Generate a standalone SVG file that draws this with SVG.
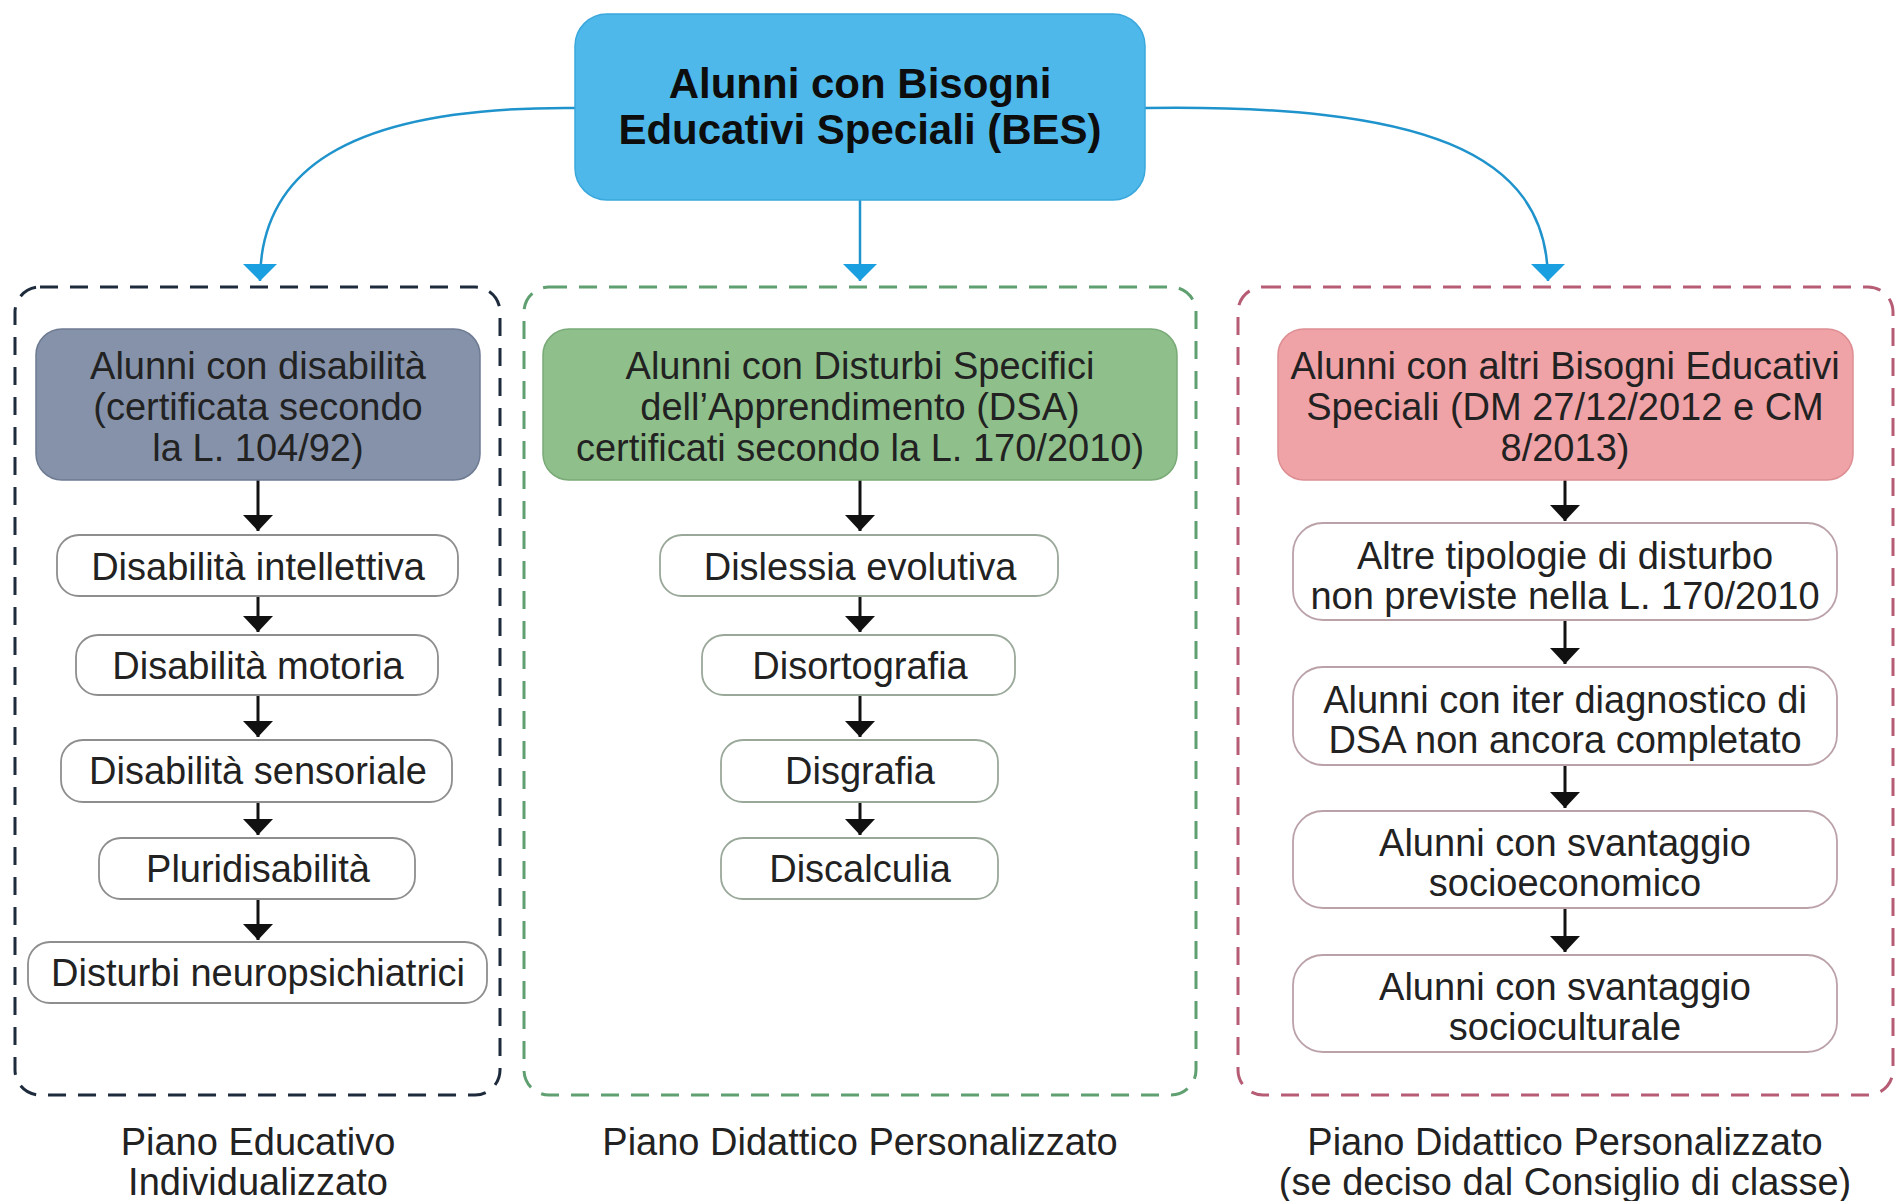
<svg xmlns="http://www.w3.org/2000/svg" width="1899" height="1201" viewBox="0 0 1899 1201">
<style>
text{font-family:"Liberation Sans",Arial,Helvetica,sans-serif;fill:#222;text-anchor:middle}
.t{font-size:38px}
.title{font-size:42px;font-weight:bold;fill:#0d0d0d}
.cont{fill:none;stroke-width:3;stroke-dasharray:18 12}
.child{fill:#fff;stroke-width:1.8}
.k{stroke:#111;stroke-width:3;fill:none;marker-end:url(#ak)}
.b{stroke:#1f93cc;stroke-width:2.5;fill:none;marker-end:url(#ab)}
</style>
<defs>
<marker id="ak" markerUnits="userSpaceOnUse" viewBox="0 0 16 30" refX="16" refY="15" markerWidth="16" markerHeight="30" orient="auto"><path d="M0,0 L16,15 L0,30 Z" fill="#111"/></marker>
<marker id="ab" markerUnits="userSpaceOnUse" viewBox="0 0 17 34" refX="17" refY="17" markerWidth="17" markerHeight="34" orient="auto"><path d="M0,0 L17,17 L0,34 Z" fill="#1a9fe0"/></marker>
</defs>
<rect width="1899" height="1201" fill="#fff"/>

<g id="containers">
<rect id="box-pei" class="cont" x="15" y="287" width="485" height="808" rx="25" stroke="#1d2b3c"/>
<rect id="box-pdp" class="cont" x="524" y="287" width="672" height="808" rx="25" stroke="#5f9f70"/>
<rect id="box-pdp2" class="cont" x="1238" y="287" width="655" height="808" rx="25" stroke="#b65c74"/>
</g>

<g id="connectors">
<path class="b" d="M575,108 C340,106 260,175 260,281"/>
<path class="b" d="M860,200 L860,281"/>
<path class="b" d="M1145,108 C1420,104 1548,150 1548,281"/>
<path class="k" d="M258,480 V531"/>
<path class="k" d="M258,596 V632"/>
<path class="k" d="M258,695 V737"/>
<path class="k" d="M258,802 V835"/>
<path class="k" d="M258,899 V940"/>
<path class="k" d="M860,480 V531"/>
<path class="k" d="M860,596 V632"/>
<path class="k" d="M860,695 V737"/>
<path class="k" d="M860,802 V835"/>
<path class="k" d="M1565,480 V521"/>
<path class="k" d="M1565,620 V664"/>
<path class="k" d="M1565,765 V808"/>
<path class="k" d="M1565,908 V952"/>
</g>

<g id="root">
<rect x="575" y="14" width="570" height="186" rx="32" fill="#4fb8ea" stroke="#3aa8dc" stroke-width="1.5"/>
<text class="title"><tspan x="860" y="98">Alunni con Bisogni</tspan><tspan x="860" y="144">Educativi Speciali (BES)</tspan></text>
</g>

<g id="disabilita">
<rect x="36" y="329" width="444" height="151" rx="26" fill="#8592a9" stroke="#6e7b92" stroke-width="1.5"/>
<text class="t"><tspan x="258" y="379">Alunni con disabilità</tspan><tspan x="258" y="420">(certificata secondo</tspan><tspan x="258" y="461">la L. 104/92)</tspan></text>
</g>
<g id="intellettiva"><rect class="child" x="57" y="535" width="401" height="61" rx="22" stroke="#8e8e8e"/><text class="t" x="258" y="580">Disabilità intellettiva</text></g>
<g id="motoria"><rect class="child" x="76" y="635" width="362" height="60" rx="22" stroke="#8e8e8e"/><text class="t" x="258" y="679">Disabilità motoria</text></g>
<g id="sensoriale"><rect class="child" x="61" y="740" width="391" height="62" rx="22" stroke="#8e8e8e"/><text class="t" x="258" y="784">Disabilità sensoriale</text></g>
<g id="pluri"><rect class="child" x="99" y="838" width="316" height="61" rx="22" stroke="#8e8e8e"/><text class="t" x="258" y="882">Pluridisabilità</text></g>
<g id="neuro"><rect class="child" x="28" y="942" width="459" height="61" rx="22" stroke="#8e8e8e"/><text class="t" x="258" y="986">Disturbi neuropsichiatrici</text></g>

<g id="dsa">
<rect x="543" y="329" width="634" height="151" rx="26" fill="#8fc08c" stroke="#79aa77" stroke-width="1.5"/>
<text class="t"><tspan x="860" y="379">Alunni con Disturbi Specifici</tspan><tspan x="860" y="420">dell’Apprendimento (DSA)</tspan><tspan x="860" y="461">certificati secondo la L. 170/2010)</tspan></text>
</g>
<g id="dislessia"><rect class="child" x="660" y="535" width="398" height="61" rx="22" stroke="#9aa89a"/><text class="t" x="860" y="580">Dislessia evolutiva</text></g>
<g id="disortografia"><rect class="child" x="702" y="635" width="313" height="60" rx="22" stroke="#9aa89a"/><text class="t" x="860" y="679">Disortografia</text></g>
<g id="disgrafia"><rect class="child" x="721" y="740" width="277" height="62" rx="22" stroke="#9aa89a"/><text class="t" x="860" y="784">Disgrafia</text></g>
<g id="discalculia"><rect class="child" x="721" y="838" width="277" height="61" rx="22" stroke="#9aa89a"/><text class="t" x="860" y="882">Discalculia</text></g>

<g id="altri-bes">
<rect x="1278" y="329" width="575" height="151" rx="26" fill="#f0a3a7" stroke="#dc8e93" stroke-width="1.5"/>
<text class="t"><tspan x="1565" y="379">Alunni con altri Bisogni Educativi</tspan><tspan x="1565" y="420">Speciali (DM 27/12/2012 e CM</tspan><tspan x="1565" y="461">8/2013)</tspan></text>
</g>
<g id="altre-tipologie"><rect class="child" x="1293" y="523" width="544" height="97" rx="30" stroke="#baa2a8"/><text class="t"><tspan x="1565" y="569">Altre tipologie di disturbo</tspan><tspan x="1565" y="609">non previste nella L. 170/2010</tspan></text></g>
<g id="iter"><rect class="child" x="1293" y="667" width="544" height="98" rx="30" stroke="#baa2a8"/><text class="t"><tspan x="1565" y="713">Alunni con iter diagnostico di</tspan><tspan x="1565" y="753">DSA non ancora completato</tspan></text></g>
<g id="socioeconomico"><rect class="child" x="1293" y="811" width="544" height="97" rx="30" stroke="#baa2a8"/><text class="t"><tspan x="1565" y="856">Alunni con svantaggio</tspan><tspan x="1565" y="896">socioeconomico</tspan></text></g>
<g id="socioculturale"><rect class="child" x="1293" y="955" width="544" height="97" rx="30" stroke="#baa2a8"/><text class="t"><tspan x="1565" y="1000">Alunni con svantaggio</tspan><tspan x="1565" y="1040">socioculturale</tspan></text></g>

<g id="labels">
<text class="t"><tspan x="258" y="1155">Piano Educativo</tspan><tspan x="258" y="1195">Individualizzato</tspan></text>
<text class="t" x="860" y="1155">Piano Didattico Personalizzato</text>
<text class="t"><tspan x="1565" y="1155">Piano Didattico Personalizzato</tspan><tspan x="1565" y="1195">(se deciso dal Consiglio di classe)</tspan></text>
</g>
</svg>
